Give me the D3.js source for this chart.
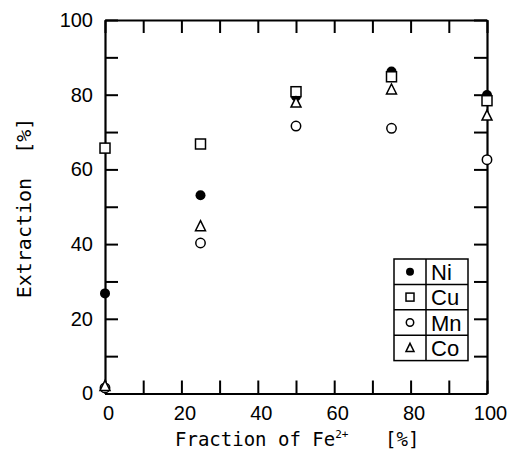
<!DOCTYPE html>
<html>
<head>
<meta charset="utf-8">
<script src="https://cdn.jsdelivr.net/npm/d3@7"></script>
<style>
html,body{margin:0;padding:0;background:#fff;}
svg{display:block;}
</style>
</head>
<body>
<svg id="chart" width="508" height="462"></svg>
<script>
const fractions = [0, 25, 50, 75, 100];
const ni = [26.8, 53.1, 79.5, 86.2, 79.9];
const cu = [65.7, 66.8, 80.8, 84.8, 78.4];
const mn = [1.5, 40.3, 71.6, 71.0, 62.6];
const co = [2.0, 44.8, 77.9, 81.4, 74.4];
const seriesNames = ["Ni", "Cu", "Mn", "Co"];
const xTicks = [0, 20, 40, 60, 80, 100];
const yTicks = [0, 20, 40, 60, 80, 100];

const svg = d3.select("#chart");
const x = d3.scaleLinear().domain([0, 100]).range([105, 487]);
const y = d3.scaleLinear().domain([0, 100]).range([393.5, 20]);
const tickFont = "'Liberation Sans', Arial, sans-serif";
const monoFont = "'DejaVu Sans Mono', monospace";
const minor = d3.range(0, 101, 10);

function styleAxis(g, labels) {
  g.select(".domain").attr("stroke", "#000").attr("stroke-width", 2.2);
  g.selectAll(".tick line").attr("stroke", "#000").attr("stroke-width", 2);
  g.selectAll(".tick text").attr("font-family", tickFont).attr("font-size", 20).attr("fill", "#000");
  if (!labels) g.selectAll(".tick text").remove();
}

// bottom
const gb = svg.append("g").attr("transform", `translate(0,${y(0)})`)
  .call(d3.axisBottom(x).tickValues(minor).tickSizeInner(-13).tickSizeOuter(0).tickPadding(12)
    .tickFormat(d => xTicks.includes(d) ? d : ""));
styleAxis(gb, true);
gb.selectAll(".tick text").attr("dx", 3);
// top
const gt = svg.append("g").attr("transform", `translate(0,${y(100)})`)
  .call(d3.axisTop(x).tickValues(minor).tickSizeInner(-13).tickSizeOuter(0));
styleAxis(gt, false);
// left
const gl = svg.append("g").attr("transform", `translate(${x(0)},0)`)
  .call(d3.axisLeft(y).tickValues(minor).tickSizeInner(-13).tickSizeOuter(0).tickPadding(12)
    .tickFormat(d => yTicks.includes(d) ? d : ""));
styleAxis(gl, true);
// right
const gr = svg.append("g").attr("transform", `translate(${x(100)},0)`)
  .call(d3.axisRight(y).tickValues(minor).tickSizeInner(-13).tickSizeOuter(0));
styleAxis(gr, false);

// axis titles
const xt = svg.append("text").attr("x", 175).attr("y", 446)
  .attr("font-family", monoFont).attr("font-size", 19).attr("fill", "#000")
  .attr("xml:space", "preserve");
xt.append("tspan").text("Fraction of Fe");
xt.append("tspan").attr("dy", -8).attr("font-size", 11).text("2+");
xt.append("tspan").attr("dy", 8).attr("x", 385).text("[%]");

svg.append("text").attr("transform", "translate(31,208) rotate(-90)")
  .attr("text-anchor", "middle").attr("font-family", monoFont).attr("font-size", 20)
  .attr("fill", "#000").attr("xml:space", "preserve").text("Extraction  [%]");

// markers
const data = [ni, cu, mn, co];
const sw = 1.5;
function drawMarker(g, type, cx, cy, s) {
  if (type === 0) {
    g.append("circle").attr("cx", cx).attr("cy", cy).attr("r", s / 2).attr("fill", "#000");
  } else if (type === 1) {
    g.append("rect").attr("x", cx - s / 2).attr("y", cy - s / 2).attr("width", s).attr("height", s)
      .attr("fill", "#fff").attr("stroke", "#000").attr("stroke-width", sw);
  } else if (type === 2) {
    g.append("circle").attr("cx", cx).attr("cy", cy).attr("r", s / 2 - 0.3)
      .attr("fill", "#fff").attr("stroke", "#000").attr("stroke-width", sw);
  } else {
    const h = s * 0.9;
    g.append("path").attr("d", `M${cx},${cy - h / 2 - 1}L${cx + s / 2},${cy + h / 2}L${cx - s / 2},${cy + h / 2}Z`)
      .attr("fill", "#fff").attr("stroke", "#000").attr("stroke-width", sw).attr("stroke-linejoin", "miter");
  }
}
const pts = svg.append("g");
data.forEach((vals, si) => {
  vals.forEach((v, i) => drawMarker(pts, si, x(fractions[i]), y(v), 10));
});

// legend
const lg = svg.append("g");
const lx0 = 394, lx1 = 426, lx2 = 468, ly0 = 259, rowH = 25.4;
lg.append("rect").attr("x", lx0).attr("y", ly0).attr("width", lx2 - lx0).attr("height", rowH * 4)
  .attr("fill", "#fff").attr("stroke", "#000").attr("stroke-width", 1.5);
lg.append("line").attr("x1", lx1).attr("x2", lx1).attr("y1", ly0).attr("y2", ly0 + rowH * 4)
  .attr("stroke", "#000").attr("stroke-width", 1.5);
seriesNames.forEach((name, i) => {
  if (i > 0) lg.append("line").attr("x1", lx0).attr("x2", lx2).attr("y1", ly0 + rowH * i).attr("y2", ly0 + rowH * i)
    .attr("stroke", "#000").attr("stroke-width", 1.5);
  drawMarker(lg, i, (lx0 + lx1) / 2, ly0 + rowH * (i + 0.5), 8);
  lg.append("text").attr("x", lx1 + 5).attr("y", ly0 + rowH * (i + 0.5) + 8)
    .attr("font-family", tickFont).attr("font-size", 22).attr("fill", "#000").text(name);
});
</script>
</body>
</html>
